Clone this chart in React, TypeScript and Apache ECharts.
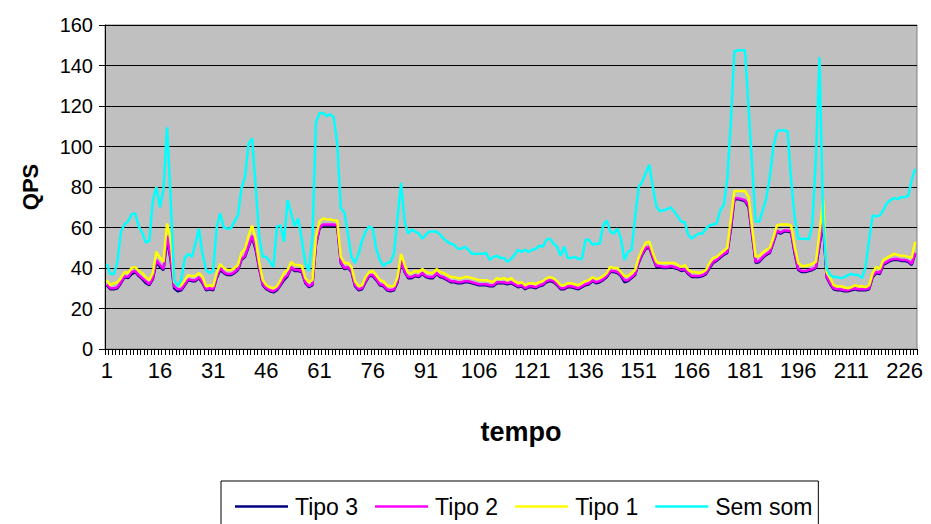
import React, { useEffect, useRef } from "react";
import * as echarts from "echarts";

// Time steps 1..229 on the category axis
const tempo: string[] = Array.from({ length: 229 }, (_, i) => String(i + 1));

const semSom: number[] = [
  42, 37, 37, 43, 58, 61.5, 63, 66.5, 67, 60.5,
  57.5, 52.5, 53.5, 73.5, 80, 70, 79, 109.5, 75, 34,
  31, 34, 45, 47, 45.5, 52, 59.5, 47, 39, 37.5,
  38.5, 60, 67, 60, 59.5, 59.5, 63, 66, 79.5, 85,
  101.5, 104, 80, 55.5, 45.5, 45.5, 43, 40.5, 60.5, 61,
  53, 73.5, 67, 60.5, 64.5, 54, 42.5, 38.5, 55.5, 112,
  116.5, 116.5, 115, 116, 114.5, 101.5, 69.5, 67.5, 57, 45.5,
  42.5, 47, 53.5, 58, 60.5, 59.5, 49.5, 44, 41, 42.5,
  43, 47, 65, 82, 63, 57, 59, 58, 57, 54.5,
  56.5, 58, 58, 58, 56.5, 54.5, 53, 52, 51.5, 49.5,
  49.5, 50.5, 49, 47, 47, 47, 47, 47.5, 44, 45.5,
  46, 45, 45, 43, 44.5, 46.5, 49, 48, 49, 48,
  49, 49.5, 51, 50.5, 54, 54.5, 52, 50.5, 46, 50.5,
  45, 45, 45.5, 44.5, 44.5, 54, 54, 51.5, 52, 52,
  61, 63.5, 58, 57, 59.5, 54.5, 44, 48, 49, 65,
  80, 82.5, 87, 91, 80, 70.5, 68, 68.5, 69, 70,
  68, 65.5, 63, 62.5, 56.5, 54.5, 56, 57, 57, 59.5,
  61, 61.5, 62, 68.5, 71, 84, 112, 147, 147.5, 147.5,
  147.5, 119, 91, 63, 63, 68.5, 74.5, 85, 100, 107.5,
  108, 108, 107.5, 83.5, 65, 54.5, 54.5, 54.5, 54, 62,
  95, 144, 65, 40, 36.5, 35.5, 35.5, 35, 35.5, 36.5,
  37, 36.5, 36.5, 35, 40.5, 54, 66, 65.5, 66, 68.5,
  72, 73.5, 74.5, 74, 75, 75, 75.5, 83.5, 89,
];

const tipo1: number[] = [
  34, 31.5, 32.5, 33, 35, 38, 37.5, 40, 40.5, 38.5,
  37.5, 35.5, 34, 37.5, 48, 45, 43, 62, 55, 33,
  31.5, 31.5, 34, 36.5, 36, 36, 37.5, 35.5, 31, 31.5,
  31, 37.5, 42, 40, 39, 39, 40, 41.5, 47.5, 49.5,
  56, 61, 54, 42.5, 34, 31.5, 30.5, 30, 31, 34,
  37.5, 39, 43, 41.5, 41.5, 41, 35, 33, 34, 55.5,
  63, 64.5, 64, 64, 63.5, 63.5, 45.5, 42.5, 42.5, 40.5,
  33.5, 31, 31.5, 35.5, 38, 38.5, 36.5, 34, 33.5, 31.5,
  31, 31, 35.5, 47, 41.5, 37.5, 37.5, 38.5, 38, 39.5,
  38, 37.5, 37.5, 39.5, 38, 37.5, 36.5, 35.5, 35.5, 35,
  35, 35.5, 35.5, 35, 34.5, 34, 34, 34, 33.5, 33,
  35, 34.5, 35, 34, 35, 33.5, 32.5, 33, 31.5, 32.5,
  32.5, 32, 33, 33.5, 35, 35.5, 35, 33.5, 31.5, 31.5,
  32.5, 32.5, 32, 31.5, 32.5, 33.5, 34, 35.5, 34.5, 35,
  36, 37.5, 40.5, 40, 40, 38, 36, 36, 37.5, 39,
  45, 49, 52.5, 53, 47.5, 43, 42.5, 42.5, 42.5, 42.5,
  42.5, 41.5, 40.5, 41.5, 39, 38, 38, 37.5, 38, 39,
  42.5, 45, 45.5, 47, 48.5, 50, 64, 78, 78, 78,
  78, 75, 60, 45.5, 46, 47.5, 49, 50, 55, 61,
  61.5, 61.5, 61.5, 61, 50.5, 42.5, 41, 41, 41.5, 42,
  43, 57, 74, 38, 35, 31.5, 31, 31, 30.5, 30,
  30.5, 31.5, 31, 31, 30.5, 31.5, 37.5, 40.5, 39.5, 44,
  45, 46, 47, 46.5, 46, 46, 45.5, 45, 53,
];

const tipo2: number[] = [
  32, 30, 30, 30.5, 33, 36, 35.5, 38, 38.5, 36.5,
  35, 33.5, 32, 35, 44, 41.5, 39.5, 56, 45, 31,
  29.5, 29.5, 32, 34.5, 34, 34, 35.5, 33, 29.5, 30,
  29.5, 35.5, 40, 38, 37, 37, 38, 39.5, 44.5, 46,
  51, 56, 50, 40, 32, 30, 29, 28.5, 29.5, 32,
  35, 36.5, 40.5, 39, 39, 38.5, 33, 31, 32, 52,
  60, 61.5, 61.5, 61.5, 61.5, 61, 43, 40, 40.5, 38.5,
  31.5, 29.5, 30, 33.5, 36.5, 36.5, 34.5, 32, 31.5, 29.5,
  29, 29.5, 33.5, 44, 38.5, 35.5, 35.5, 36.5, 36, 37.5,
  36, 35.5, 35.5, 37.5, 36, 35.5, 34.5, 33.5, 33.5, 33,
  33, 33.5, 33.5, 33, 32.5, 32, 32, 32, 31.5, 31.5,
  33, 33, 33, 32.5, 33, 32, 31, 31.5, 30, 31,
  31, 30.5, 31.5, 32, 33.5, 34, 33.5, 32, 30, 30,
  31, 31, 30.5, 30, 31, 32, 32.5, 34, 33, 33.5,
  34.5, 36, 38.5, 38.5, 38, 36.5, 34, 34, 35.5, 37,
  43, 47, 50, 50.5, 45.5, 41, 41, 40.5, 40.5, 41,
  40.5, 40, 39, 39.5, 37.5, 36, 36, 36, 36.5, 37.5,
  40.5, 43, 44, 45.5, 47, 48, 60, 74.5, 74.5, 74,
  73.5, 71, 57, 43, 43.5, 45.5, 47, 48, 53, 58.5,
  57.5, 58.5, 58.5, 58, 48, 39.5, 38.5, 38.5, 39, 39.5,
  40.5, 52, 63, 36, 32.5, 30, 29.5, 29.5, 29, 29,
  29.5, 30, 29.5, 29.5, 29.5, 30, 36, 38, 37.5, 42,
  43, 44, 44.5, 44.5, 44, 44, 43.5, 42, 47.5,
];

const tipo3: number[] = [
  31.5, 29.5, 29.5, 30, 32.5, 35.5, 35, 37, 38, 36,
  34.5, 32.5, 31.5, 34.5, 43, 40.5, 39, 54, 44, 30,
  28.5, 29, 31.5, 34, 33.5, 33.5, 35, 32.5, 29, 29.5,
  29, 35, 39, 37.5, 36.5, 36.5, 37.5, 39, 44, 45.5,
  50.5, 55, 49, 39.5, 31.5, 29.5, 28.5, 28, 29, 31.5,
  34, 36, 40, 38.5, 38.5, 38, 32.5, 30.5, 31.5, 51.5,
  59.5, 61, 61, 61, 61, 60.5, 42.5, 39.5, 40, 38,
  31, 29, 29.5, 33, 36, 36, 34, 31.5, 31, 29,
  28.5, 29, 33, 43.5, 38, 35, 35, 36, 35.5, 37,
  35.5, 35, 35, 37, 35.5, 35, 34, 33, 33, 32.5,
  32.5, 33, 33, 32.5, 32, 31.5, 31.5, 31.5, 31, 31,
  32.5, 32.5, 32.5, 32, 32.5, 31.5, 30.5, 31, 29.5, 30.5,
  30.5, 30, 31, 31.5, 33, 33.5, 33, 31.5, 29.5, 29.5,
  30.5, 30.5, 30, 29.5, 30.5, 31.5, 32, 33.5, 32.5, 33,
  34, 35.5, 38, 38, 37.5, 36, 33, 33.5, 35, 36.5,
  42.5, 46.5, 49.5, 50, 45, 40.5, 40.5, 40, 40, 40.5,
  40, 39.5, 38.5, 39, 37, 35.5, 35.5, 35.5, 36, 37,
  40, 42.5, 43.5, 45, 46.5, 47.5, 59, 74, 74, 73.5,
  73, 70, 56, 42.5, 43, 45, 46.5, 47.5, 52.5, 58,
  57, 58, 58, 57.5, 47, 39, 38, 38, 38.5, 39,
  40, 51, 62, 35.5, 32, 29.5, 29, 29, 28.5, 28.5,
  29, 29.5, 29, 29, 29, 29.5, 35.5, 37.5, 37, 41.5,
  42.5, 43.5, 44, 44, 43.5, 43.5, 43, 41.5, 47,
];

const FONT = "'Liberation Sans', Arial, sans-serif";

export default function App() {
  const ref = useRef<HTMLDivElement>(null);

  useEffect(() => {
    if (!ref.current) return;
    const chart = echarts.init(ref.current, undefined, { renderer: "svg" });

    const mkSeries = (name: string, data: number[], color: string) => ({
      name,
      type: "line",
      data,
      symbol: "none",
      showSymbol: false,
      lineStyle: { color, width: 2.5 },
      itemStyle: { color },
    });

    chart.setOption({
      animation: false,
      backgroundColor: "#ffffff",
      textStyle: { fontFamily: FONT },
      grid: {
        left: 105,
        top: 25,
        right: 14,
        bottom: 175,
        show: true,
        backgroundColor: "#C0C0C0",
        borderColor: "#808080",
        borderWidth: 1,
      },
      legend: {
        left: 221,
        top: 481,
        padding: [14, 6, 20, 14],
        itemGap: 17,
        itemWidth: 53,
        itemHeight: 2.5,
        icon: "rect",
        borderColor: "#000000",
        borderWidth: 1,
        textStyle: { fontSize: 23, color: "#000000", fontFamily: FONT, padding: [0, 0, 0, 2] },
        data: ["Tipo 3", "Tipo 2", "Tipo 1", "Sem som"],
      },
      xAxis: {
        type: "category",
        data: tempo,
        boundaryGap: true,
        name: "tempo",
        nameLocation: "middle",
        nameGap: 69,
        nameTextStyle: {
          fontSize: 27,
          fontWeight: "bold",
          color: "#000",
          fontFamily: FONT,
          verticalAlign: "top",
          padding: [0, 0, 0, 20],
        },
        axisLine: { lineStyle: { color: "#000", width: 1 } },
        axisTick: { show: true, interval: 0, length: 6, lineStyle: { color: "#000" } },
        axisLabel: { interval: 14, fontSize: 22, color: "#000", margin: 10, fontFamily: FONT },
        splitLine: { show: false },
      },
      yAxis: {
        type: "value",
        min: 0,
        max: 160,
        interval: 20,
        name: "QPS",
        nameLocation: "middle",
        nameGap: 64,
        nameRotate: 90,
        nameTextStyle: { fontSize: 22, fontWeight: "bold", color: "#000", fontFamily: FONT },
        axisLine: { show: true, lineStyle: { color: "#000", width: 1 } },
        axisTick: { show: true, length: 6, lineStyle: { color: "#000" } },
        axisLabel: { fontSize: 20, color: "#000", margin: 12, fontFamily: FONT },
        splitLine: { show: true, lineStyle: { color: "#000", width: 1.2 } },
      },
      series: [
        mkSeries("Tipo 3", tipo3, "#000080"),
        mkSeries("Tipo 2", tipo2, "#FF00FF"),
        mkSeries("Tipo 1", tipo1, "#FFFF00"),
        mkSeries("Sem som", semSom, "#00FFFF"),
      ],
    });

    return () => chart.dispose();
  }, []);

  return (
    <div
      ref={ref}
      style={{ position: "fixed", left: 0, top: 0, width: 931, height: 524, background: "#fff" }}
    />
  );
}
